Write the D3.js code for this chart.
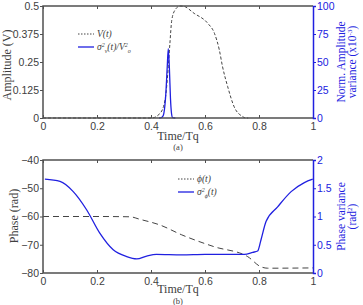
<!DOCTYPE html>
<html>
<head>
<meta charset="utf-8">
<script src="https://cdn.jsdelivr.net/npm/d3@7"></script>
<style>
  body { margin: 0; background: #fff; }
  svg { display: block; }
  .tick text { font-family: "Liberation Sans", Arial, sans-serif; font-size: 10.5px; }
</style>
</head>
<body>
<div id="chart"></div>
<script>
// panel (a): amplitude V(t) and normalised amplitude variance
var ampT   = [0, 0.38, 0.402, 0.433, 0.452, 0.464, 0.470, 0.477, 0.489, 0.507, 0.52, 0.56, 0.61, 0.635, 0.653, 0.665, 0.684, 0.708, 0.74, 0.75, 0.76];
var ampV   = [0, 0, 0, 0.02, 0.08, 0.229, 0.333, 0.4375, 0.482, 0.5, 0.499, 0.467, 0.423, 0.378, 0.304, 0.229, 0.14, 0.05, 0.006, 0, 0];
var ampVarT = [0.43, 0.438, 0.445, 0.45, 0.455, 0.46, 0.464, 0.468, 0.472, 0.476, 0.48, 0.49];
var ampVar  = [0, 0.3, 2, 8, 22, 45, 62, 45, 18, 4, 0.3, 0];

// panel (b): phase and phase variance
var phT     = [0, 0.2, 0.322, 0.359, 0.433, 0.514, 0.634, 0.758, 0.807, 0.832, 1.0];
var phV     = [-60, -60, -60.1, -61, -63, -66.5, -70.7, -74.2, -77.8, -78.3, -78.2];
var phVarT  = [0.007, 0.063, 0.112, 0.162, 0.211, 0.26, 0.31, 0.347, 0.384, 0.42, 0.514, 0.6, 0.746, 0.777, 0.795, 0.807, 0.826, 0.869, 0.919, 0.968, 0.999];
var phVar   = [1.66, 1.62, 1.44, 1.115, 0.70, 0.41, 0.29, 0.25, 0.30, 0.33, 0.32, 0.33, 0.33, 0.366, 0.39, 0.58, 0.91, 1.17, 1.44, 1.60, 1.66];

var xTicks = [0, 0.2, 0.4, 0.6, 0.8, 1];
var ampTicks = [0, 0.125, 0.25, 0.375, 0.5];
var ampVarTicks = [0, 25, 50, 75, 100];
var phTicks = [-80, -70, -60, -50, -40];
var phVarTicks = [0, 0.5, 1, 1.5, 2];

var width = 363, height = 305;
var blue = "#2020e0", frame = "#505050", ink = "#404040";
var left = 43, right = 313;

var svg = d3.select("#chart").append("svg")
    .attr("width", width).attr("height", height);

var x = d3.scaleLinear().domain([0, 1]).range([left, right]);

function panel(opt) {
  var yL = d3.scaleLinear().domain(opt.yDomain).range([opt.bottom, opt.top]);
  var yR = d3.scaleLinear().domain(opt.y2Domain).range([opt.bottom, opt.top]);
  var g = svg.append("g");

  // curves
  var lineL = d3.line().x(function(d) { return x(d[0]); }).y(function(d) { return yL(d[1]); }).curve(d3.curveMonotoneX);
  var lineR = d3.line().x(function(d) { return x(d[0]); }).y(function(d) { return yR(d[1]); }).curve(d3.curveMonotoneX);

  g.append("path")
    .datum(d3.zip(opt.t1, opt.v1))
    .attr("d", lineL)
    .attr("fill", "none").attr("stroke", "#444").attr("stroke-width", 1)
    .attr("stroke-dasharray", opt.dash);

  g.append("path")
    .datum(d3.zip(opt.t2, opt.v2))
    .attr("d", lineR)
    .attr("fill", "none").attr("stroke", blue).attr("stroke-width", 1.3);

  // axes
  g.append("g").attr("transform", "translate(0," + opt.bottom + ")")
    .call(d3.axisBottom(x).tickValues(xTicks).tickFormat(d3.format("")).tickSize(-3).tickPadding(5))
    .call(function(a) { a.select(".domain").remove(); a.selectAll("line").attr("stroke", frame); a.selectAll("text").attr("fill", ink); });
  g.append("g").attr("transform", "translate(0," + opt.top + ")")
    .call(d3.axisTop(x).tickValues(xTicks).tickFormat("").tickSize(-3))
    .call(function(a) { a.select(".domain").remove(); a.selectAll("line").attr("stroke", frame); });
  g.append("g").attr("transform", "translate(" + left + ",0)")
    .call(d3.axisLeft(yL).tickValues(opt.yTicks).tickFormat(d3.format("")).tickSize(3).tickPadding(1))
    .call(function(a) { a.select(".domain").remove(); a.selectAll("line").attr("stroke", frame); a.selectAll("text").attr("fill", ink); });

  // frame
  g.append("path")
    .attr("d", "M" + right + "," + opt.top + "H" + left + "V" + opt.bottom + "H" + right)
    .attr("fill", "none").attr("stroke", frame).attr("stroke-width", 1.5);

  g.append("g").attr("transform", "translate(" + right + ",0)")
    .call(d3.axisRight(yR).tickValues(opt.y2Ticks).tickFormat(d3.format("")).tickSize(3).tickPadding(1))
    .call(function(a) {
      a.select(".domain").attr("stroke", blue).attr("stroke-width", 1.5);
      a.selectAll("line").attr("stroke", blue);
      a.selectAll("text").attr("fill", blue);
    });

  // axis titles
  g.append("text")
    .attr("transform", "translate(" + opt.yLabelX + "," + opt.yLabelY + ") rotate(-90)")
    .attr("text-anchor", "middle")
    .style("font-family", "Liberation Serif, serif").style("font-size", "12px").attr("fill", ink)
    .text(opt.yLabel);

  opt.y2Label.forEach(function(l, i) {
    var t = g.append("text")
      .attr("transform", "translate(" + (345 + i * 11) + "," + ((opt.top + opt.bottom) / 2) + ") rotate(-90)")
      .attr("text-anchor", "middle")
      .style("font-family", "Liberation Serif, serif").style("font-size", "11.5px").attr("fill", blue);
    l.forEach(function(p) {
      var s = t.append("tspan").text(p.s);
      if (p.sup) s.attr("baseline-shift", "super").style("font-size", "7px");
    });
  });

  g.append("text").attr("x", 178).attr("y", opt.bottom + opt.xLabelDy).attr("text-anchor", "middle")
    .style("font-family", "Liberation Serif, serif").style("font-size", "12px").attr("fill", ink)
    .text("Time/Tq");
  g.append("text").attr("x", 178).attr("y", opt.bottom + opt.tagDy).attr("text-anchor", "middle")
    .style("font-family", "Liberation Serif, serif").style("font-size", "8.5px").attr("fill", ink)
    .text(opt.tag);

  // legend
  var lg = g.append("g").attr("transform", "translate(" + opt.legX + "," + opt.legY + ")")
    .style("font-family", "Liberation Serif, serif").style("font-style", "italic").style("font-size", "9.5px");
  lg.append("line").attr("x1", 0).attr("x2", 16).attr("y1", 0).attr("y2", 0)
    .attr("stroke", "#444").attr("stroke-dasharray", "1.5,1.5");
  lg.append("line").attr("x1", 0).attr("x2", 16).attr("y1", 13).attr("y2", 13)
    .attr("stroke", blue).attr("stroke-width", 1.3);
  opt.legend.forEach(function(parts, i) {
    var t = lg.append("text").attr("x", 19).attr("y", i * 13 + 3).attr("fill", ink);
    parts.forEach(function(p) {
      var s = t.append("tspan").text(p.s);
      if (p.sub) s.attr("baseline-shift", "sub").style("font-size", "6px");
      if (p.sup) s.attr("baseline-shift", "super").style("font-size", "6px");
    });
  });
}

panel({
  top: 6, bottom: 118,
  yDomain: [0, 0.5], y2Domain: [0, 100],
  yTicks: ampTicks, y2Ticks: ampVarTicks,
  t1: ampT, v1: ampV, t2: ampVarT, v2: ampVar,
  dash: "3,2",
  yLabel: "Amplitude (V)", yLabelX: 11, yLabelY: 65,
  y2Label: [[{s: "Norm. Amplitude"}], [{s: "variance (x10"}, {s: "-3", sup: true}, {s: ")"}]],
  tag: "(a)", xLabelDy: 22, tagDy: 32,
  legX: 78, legY: 34,
  legend: [[{s: "V(t)"}], [{s: "σ"}, {s: "2", sup: true}, {s: "v", sub: true}, {s: "(t)/V"}, {s: "2", sup: true}, {s: "o", sub: true}]]
});

panel({
  top: 160, bottom: 273,
  yDomain: [-80, -40], y2Domain: [0, 2],
  yTicks: phTicks, y2Ticks: phVarTicks,
  t1: phT, v1: phV, t2: phVarT, v2: phVar,
  dash: "6,4",
  yLabel: "Phase (rad)", yLabelX: 18, yLabelY: 216,
  y2Label: [[{s: "Phase variance"}], [{s: "(rad"}, {s: "2", sup: true}, {s: ")"}]],
  tag: "(b)", xLabelDy: 20, tagDy: 31,
  legX: 178, legY: 179,
  legend: [[{s: "ϕ(t)"}], [{s: "σ"}, {s: "2", sup: true}, {s: "ϕ", sub: true}, {s: "(t)"}]]
});
</script>
</body>
</html>
